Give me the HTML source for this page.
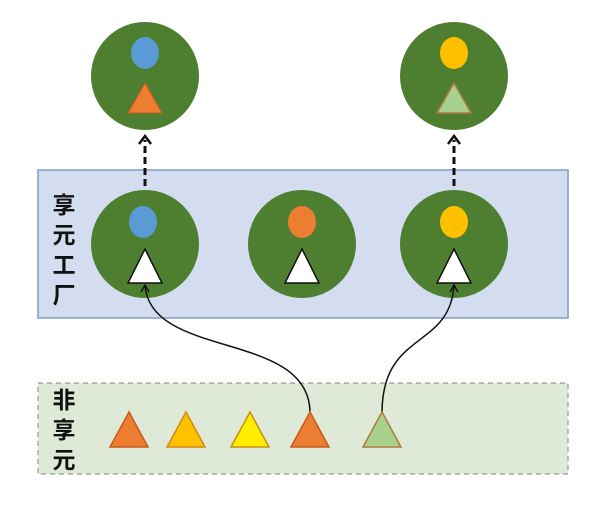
<!DOCTYPE html>
<html><head><meta charset="utf-8"><style>body{margin:0;background:#fff}svg{display:block}</style></head><body>
<svg width="600" height="506" viewBox="0 0 600 506" xmlns="http://www.w3.org/2000/svg">
<rect x="38" y="170" width="530" height="148" fill="#d4dcef" stroke="#7f9cc4" stroke-width="1.5"/>
<rect x="38" y="383" width="530" height="91" fill="#dfe9d7" stroke="#909a90" stroke-width="1.2" stroke-dasharray="5,4"/>
<g font-family="'Liberation Sans','Noto Sans CJK SC',sans-serif" font-size="23" font-weight="bold" fill="#111" text-anchor="middle">
<text x="64" y="213">享</text><text x="64" y="243">元</text><text x="64" y="273">工</text><text x="64" y="303">厂</text>
<text x="64" y="408">非</text><text x="64" y="438">享</text><text x="64" y="468">元</text>
</g>
<g fill="#4e7f30">
<circle cx="145" cy="76" r="54"/><circle cx="454" cy="76" r="54"/>
<circle cx="145" cy="244" r="54"/><circle cx="302" cy="244" r="54"/><circle cx="454" cy="244" r="54"/>
</g>
<ellipse cx="145" cy="53" rx="14" ry="16" fill="#5b9bd5"/>
<polygon points="145,83 128,113 162,113" fill="#ed7d31" stroke="#c65a20"/>
<ellipse cx="454" cy="53" rx="14" ry="16" fill="#ffc000"/>
<polygon points="454,83 437,113 471,113" fill="#a9d18e" stroke="#b07a40" stroke-width="1.5"/>
<ellipse cx="143" cy="222" rx="14" ry="16" fill="#5b9bd5"/>
<ellipse cx="302" cy="222" rx="14" ry="16" fill="#ed7d31"/>
<ellipse cx="454" cy="222" rx="14" ry="16" fill="#ffc000"/>
<g fill="#fff" stroke="#111" stroke-width="1.5">
<polygon points="145,249 128,283 162,283"/><polygon points="302,249 285,283 319,283"/><polygon points="454,249 437,283 471,283"/>
</g>
<g stroke="#111" stroke-width="3" stroke-dasharray="7,4">
<line x1="145" y1="186" x2="145" y2="140"/><line x1="454" y1="186" x2="454" y2="140"/>
</g>
<g fill="none" stroke="#111" stroke-width="2.5">
<polyline points="139,144 145,136 151,144"/><polyline points="448,144 454,136 460,144"/>
</g>
<g fill="none" stroke="#111" stroke-width="1.5">
<path d="M310,413 C310,330 150,360 145,285"/>
<path d="M382,413 C382,330 450,350 454,285"/>
<polyline points="141,292 145,285 149,292"/><polyline points="450,292 454,285 458,292"/>
</g>
<g stroke-width="1.5">
<polygon points="129,412 110,447 148,447" fill="#ed7d31" stroke="#c65a20"/>
<polygon points="186,412 167,447 205,447" fill="#ffc000" stroke="#d08a10"/>
<polygon points="250,412 231,447 269,447" fill="#ffee00" stroke="#c89010"/>
<polygon points="310,412 291,447 329,447" fill="#ed7d31" stroke="#c65a20"/>
<polygon points="382,412 363,447 401,447" fill="#a9d18e" stroke="#b07a40"/>
</g>
</svg>
</body></html>
